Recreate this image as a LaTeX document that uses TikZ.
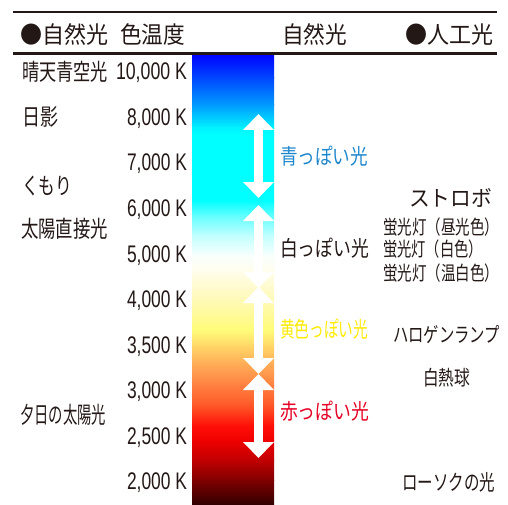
\documentclass[tikz,border=0pt]{standalone}
\usepackage{fontspec}
\usepackage{graphicx}
\setmainfont{Liberation Sans}
\newfontfamily\jp{Noto Sans CJK JP}
\usetikzlibrary{arrows.meta}
\definecolor{ink}{HTML}{231815}
\definecolor{tblue}{HTML}{1E86CC}
\definecolor{tyellow}{HTML}{FFEA00}
\definecolor{tred}{HTML}{E60023}
\definecolor{c0}{HTML}{0000FF}
\definecolor{c1}{HTML}{0048FF}
\definecolor{c2}{HTML}{009CFF}
\definecolor{c3}{HTML}{00F4FF}
\definecolor{c4}{HTML}{00FFFF}
\definecolor{c5}{HTML}{00FFFF}
\definecolor{c6}{HTML}{60FFFF}
\definecolor{c7}{HTML}{C0FFFF}
\definecolor{c8}{HTML}{F8FFFC}
\definecolor{c9}{HTML}{FFFDF0}
\definecolor{c10}{HTML}{FFFAC8}
\definecolor{c11}{HTML}{FFFA98}
\definecolor{c12}{HTML}{FFFB78}
\definecolor{c13}{HTML}{FFD868}
\definecolor{c14}{HTML}{FFB058}
\definecolor{c15}{HTML}{FF8040}
\definecolor{c16}{HTML}{FF5828}
\definecolor{c17}{HTML}{FF1008}
\definecolor{c18}{HTML}{F00000}
\definecolor{c19}{HTML}{C00000}
\definecolor{c20}{HTML}{800000}
\definecolor{c21}{HTML}{300000}
\newcommand{\fitw}[2]{\resizebox{#1pt}{\height}{#2}}
\newcommand{\seg}[4]{\shade[top color=#2, bottom color=#4] (192,#1) rectangle (274,#3+0.6);}
\tikzset{
  lbl/.style={inner sep=0pt, outer sep=0pt, text=ink, font=\jp\fontsize{#1}{#1}\selectfont},
  num/.style={inner sep=0pt, outer sep=0pt, text=ink, anchor=base east, font=\fontsize{24}{24}\selectfont},
  rule/.style={draw=ink, line width=2.4pt},
  wa/.style={draw=white, line width=9pt, {Triangle[width=30pt,length=16pt]}-{Triangle[width=30pt,length=16pt]}}
}
\begin{document}
\begin{tikzpicture}[x=1pt,y=-1pt]
\useasboundingbox (0,0) rectangle (508,505);
% gradient bar
\seg{54}{c0}{78}{c1}
\seg{78}{c1}{105}{c2}
\seg{105}{c2}{128}{c3}
\seg{128}{c3}{135}{c4}
\seg{135}{c4}{200}{c5}
\seg{200}{c5}{215}{c6}
\seg{215}{c6}{235}{c7}
\seg{235}{c7}{255}{c8}
\seg{255}{c8}{268}{c9}
\seg{268}{c9}{290}{c10}
\seg{290}{c10}{315}{c11}
\seg{315}{c11}{330}{c12}
\seg{330}{c12}{345}{c13}
\seg{345}{c13}{362}{c14}
\seg{362}{c14}{385}{c15}
\seg{385}{c15}{405}{c16}
\seg{405}{c16}{425}{c17}
\seg{425}{c17}{440}{c18}
\seg{440}{c18}{460}{c19}
\seg{460}{c19}{480}{c20}
\shade[top color=c20, bottom color=c21] (192,480) rectangle (274,505);
% rules
\coordinate (t1) at (13,12);  \coordinate (t2) at (497,12);
\coordinate (m1) at (13,53.5);\coordinate (m2) at (497,53.5);
\draw[rule] (t1) -- (t2);
\draw[rule] (m1) -- (m2);
% arrows
\coordinate (a1) at (258.5,114); \coordinate (b1) at (258.5,198);
\coordinate (a2) at (258.5,205); \coordinate (b2) at (258.5,288);
\coordinate (a3) at (258.5,287); \coordinate (b3) at (258.5,374);
\coordinate (a4) at (258.5,374); \coordinate (b4) at (258.5,458);
\draw[wa] (a1) -- (b1);
\draw[wa] (a2) -- (b2);
\draw[wa] (a3) -- (b3);
\draw[wa] (a4) -- (b4);
% header
\node[lbl=23.5, anchor=west] (h1) at (20,35) {\fitw{88}{●自然光}};
\node[lbl=23.5, anchor=west] (h2) at (120,35) {\fitw{65}{色温度}};
\node[lbl=23.5, anchor=west] (h3) at (282,35) {\fitw{65}{自然光}};
\node[lbl=23.5, anchor=west] (h4) at (405,35) {\fitw{88}{●人工光}};
% left labels
\node[lbl=23, anchor=west] (l1) at (22,72) {\fitw{86}{晴天青空光}};
\node[lbl=23, anchor=west] (l2) at (22,117) {\fitw{36}{日影}};
\node[lbl=23, anchor=west] (l3) at (22,186) {\fitw{50}{くもり}};
\node[lbl=23, anchor=west] (l4) at (21,229) {\fitw{87}{太陽直接光}};
\node[lbl=23, anchor=west] (l5) at (20,415) {\fitw{86}{夕日の太陽光}};
% kelvin values
\node[num] (k1) at (187,80) {\fitw{71}{10,000 K}};
\node[num] (k2) at (187,125.5) {\fitw{60}{8,000 K}};
\node[num] (k3) at (187,171) {\fitw{60}{7,000 K}};
\node[num] (k4) at (187,216.5) {\fitw{60}{6,000 K}};
\node[num] (k5) at (187,262) {\fitw{60}{5,000 K}};
\node[num] (k6) at (187,307.5) {\fitw{60}{4,000 K}};
\node[num] (k7) at (187,353) {\fitw{60}{3,500 K}};
\node[num] (k8) at (187,398.5) {\fitw{60}{3,000 K}};
\node[num] (k9) at (187,444) {\fitw{60}{2,500 K}};
\node[num] (k10) at (187,489.5) {\fitw{60}{2,000 K}};
% tone labels
\node[lbl=21.5, anchor=west, text=tblue] (r1) at (280,156) {\fitw{88}{青っぽい光}};
\node[lbl=21.5, anchor=west] (r2) at (280,248) {\fitw{89}{白っぽい光}};
\node[lbl=21.5, anchor=west, text=tyellow] (r3) at (280,329) {\fitw{88}{黄色っぽい光}};
\node[lbl=21.5, anchor=west, text=tred] (r4) at (280,411) {\fitw{89}{赤っぽい光}};
% artificial light
\node[lbl=22, anchor=west] (f1) at (409,198) {\fitw{83}{ストロボ}};
\node[lbl=19.5, anchor=west] (f2) at (383,227) {\fitw{116}{蛍光灯（昼光色）}};
\node[lbl=19.5, anchor=west] (f3) at (383,249) {\fitw{100}{蛍光灯（白色）}};
\node[lbl=19.5, anchor=west] (f4) at (383,273) {\fitw{116}{蛍光灯（温白色）}};
\node[lbl=20.5, anchor=west] (f5) at (393,335) {\fitw{107}{ハロゲンランプ}};
\node[lbl=20.5, anchor=west] (f6) at (423,378) {\fitw{47}{白熱球}};
\node[lbl=21.5, anchor=west] (f7) at (402,482) {\fitw{93}{ローソクの光}};
\end{tikzpicture}
\end{document}
